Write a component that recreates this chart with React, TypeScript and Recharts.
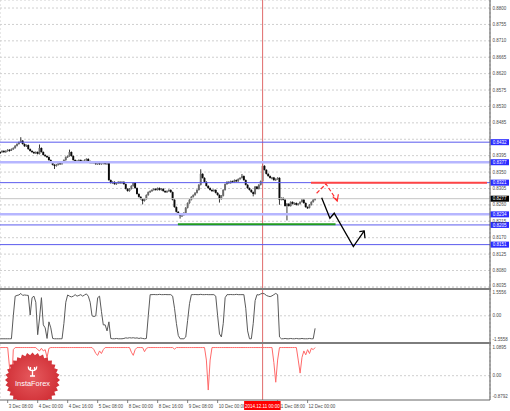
import React from 'react';
import { ComposedChart, Bar, Line, XAxis, YAxis, CartesianGrid, ReferenceLine } from 'recharts';

// H1 closes, index 0 = 3 Dec 04:00
const closes = [
  0.8405, 0.8408, 0.8405, 0.8408, 0.8411, 0.8410, 0.8413, 0.8416, 0.8422, 0.8427,
  0.8432, 0.8436, 0.8427, 0.8421, 0.8424, 0.8413, 0.8408, 0.8405, 0.8402, 0.8405,
  0.8400, 0.8416, 0.8405, 0.8397, 0.8394, 0.8391, 0.8383, 0.8378, 0.8370, 0.8367,
  0.8370, 0.8375, 0.8372, 0.8378, 0.8383, 0.8391, 0.8394, 0.8405, 0.8394, 0.8383,
  0.8380, 0.8381, 0.8383, 0.8380, 0.8378, 0.8383, 0.8386, 0.8380, 0.8375, 0.8378,
  0.8375, 0.8372, 0.8375, 0.8372, 0.8375, 0.8376, 0.8372, 0.8375, 0.8328, 0.8320,
  0.8323, 0.8317, 0.8320, 0.8323, 0.8320, 0.8323, 0.8317, 0.8304, 0.8298, 0.8304,
  0.8312, 0.8320, 0.8306, 0.8290, 0.8282, 0.8276, 0.8271, 0.8276, 0.8287, 0.8295,
  0.8298, 0.8301, 0.8304, 0.8301, 0.8306, 0.8301, 0.8304, 0.8298, 0.8295, 0.8298,
  0.8301, 0.8295, 0.8274, 0.8254, 0.8241, 0.8235, 0.8230, 0.8232, 0.8238, 0.8252,
  0.8265, 0.8274, 0.8282, 0.8287, 0.8293, 0.8301, 0.8315, 0.8345, 0.8334, 0.8323,
  0.8312, 0.8306, 0.8301, 0.8298, 0.8301, 0.8293, 0.8287, 0.8276, 0.8285, 0.8301,
  0.8317, 0.8323, 0.8320, 0.8325, 0.8323, 0.8328, 0.8325, 0.8331, 0.8334, 0.8339,
  0.8328, 0.8315, 0.8306, 0.8301, 0.8295, 0.8290, 0.8310, 0.8304, 0.8315, 0.8325,
  0.8367, 0.8356, 0.8345, 0.8339, 0.8334, 0.8335, 0.8328, 0.8331, 0.8334, 0.8274,
  0.8279, 0.8274, 0.8257, 0.8263, 0.8257, 0.8268, 0.8263, 0.8265, 0.8260, 0.8263,
  0.8268, 0.8274, 0.8265, 0.8254, 0.8252, 0.8260, 0.8268, 0.8274, 0.8277,
];
const spikeHighs: [number, number][] = [[11, 0.8444], [21, 0.8424], [37, 0.8410], [107, 0.8356], [129, 0.8343], [140, 0.8375]];
const spikeLows: [number, number][] = [[29, 0.8360], [76, 0.8263], [96, 0.8224], [117, 0.8268], [135, 0.8285], [149, 0.8262], [153, 0.8219]];

const osc1 = [
  -1.52, -1.52, -1.52, -1.52, -1.52, -1.52, -1.52, 0.0, 1.3, 1.35,
  1.38, 1.48, 1.35, 1.38, 1.36, 1.35, 0.05, 1.2, 1.3, 0.9,
  -1.25, -0.15, 1.2, -0.6, -0.8, -1.5, -0.4, -0.8, -1.5, -1.52,
  -1.52, -1.52, -1.52, -1.52, -0.5, 0.9, 1.38, 1.3, 1.25, 1.3,
  1.4, 1.3, 1.35, 1.4, 1.3, 1.38, 1.45, 1.3, 0.9, 0.0,
  -0.05, 0.0, 1.2, 1.3, 0.3, -0.6, -0.6, -1.0, -0.4, -1.5,
  -1.52, -1.52, -1.5, -1.52, -1.52, -1.52, -1.5, -1.46, -1.48, -1.45,
  -1.47, -1.45, -1.48, -1.46, -1.5, -1.47, -1.5, -1.52, -1.5, 0.0,
  1.4, 1.4, 1.41, 1.4, 1.4, 1.42, 1.4, 1.4, 1.41, 1.4,
  1.4, 1.4, 1.3, 0.5, -0.5, -1.3, -1.52, -1.52, -1.52, -1.4,
  -0.3, 0.8, 1.4, 1.4, 1.41, 1.4, 1.4, 1.42, 1.4, 1.4,
  1.41, 1.4, 1.4, 1.4, 1.4, 1.3, 0.0, -1.2, -1.4, -0.5,
  1.2, 1.4, 1.4, 1.41, 1.4, 1.4, 1.42, 1.4, 1.4, 1.4,
  1.4, 0.5, -1.0, -1.52, -1.52, -0.5, 1.0, 1.4, 1.38, 1.45,
  1.49, 1.45, 1.35, 1.3, 1.27, 1.32, 1.4, 1.48, 1.4, -1.4,
  -1.52, -1.52, -1.5, -1.52, -1.52, -1.5, -1.52, -1.52, -1.5, -1.52,
  -1.52, -1.5, -1.52, -1.52, -1.52, -1.5, -1.52, -1.52, -0.83,
];

const osc2 = [
  1.08, 1.08, 1.08, 1.08, 1.08, 0.3, -0.55, 1.0, 1.08, 1.08,
  1.08, 1.08, 1.08, 1.08, 1.08, 1.08, 1.08, 1.08, 1.08, 1.08,
  1.0, 0.95, 1.05, 0.95, 1.0, 0.7, 1.05, 1.08, 1.08, 1.08,
  1.08, 1.08, 1.08, 1.08, 1.08, 1.08, 1.08, 1.08, 1.08, 1.08,
  1.08, 1.08, 1.08, 1.08, 1.08, 1.08, 1.08, 1.08, 1.08, 1.08,
  1.0, 0.85, 0.78, 0.95, 0.85, 1.0, 1.08, 1.08, 1.08, 1.08,
  1.08, 1.08, 1.08, 1.08, 1.08, 1.08, 1.08, 1.08, 1.08, 1.08,
  0.9, 0.78, 1.0, 1.08, 1.08, 1.08, 1.08, 0.92, 1.05, 1.08,
  1.08, 1.08, 1.08, 1.08, 1.08, 1.08, 1.08, 1.08, 1.08, 1.08,
  1.08, 1.08, 1.08, 1.02, 1.08, 1.08, 1.08, 1.08, 1.08, 1.08,
  1.08, 1.08, 1.08, 1.08, 1.08, 1.08, 1.08, 1.08, 1.08, 1.08,
  0.6, -0.55, 0.6, 1.08, 1.08, 1.08, 1.08, 1.08, 1.08, 1.08,
  1.08, 1.08, 1.08, 1.08, 1.08, 1.08, 1.08, 1.08, 1.08, 1.08,
  1.08, 1.08, 1.08, 1.08, 1.08, 1.08, 1.08, 1.08, 1.08, 1.08,
  1.08, 1.08, 1.08, 1.08, 1.08, 1.08, 0.5, -0.25, 0.6, 1.08,
  1.08, 1.08, 1.08, 1.08, 1.08, 1.08, 1.08, 1.08, 1.08, 0.6,
  0.1, 0.7, 0.95, 0.8, 1.0, 0.85, 1.05, 1.0, 1.08,
];

const priceTicks = [0.88, 0.8755, 0.871, 0.8665, 0.862, 0.8575, 0.853, 0.8485, 0.844, 0.8395, 0.835, 0.8305, 0.826, 0.8215, 0.817, 0.8125, 0.808, 0.8035];
const thinLevels = [0.8432, 0.8321, 0.8205, 0.8151];
const thickLevels = [0.8377, 0.8234];
const lastPrice = 0.8277;
const resistance = { price: 0.8321, from: 165.8, to: 259.7 };
const support = { price: 0.8207, from: 94.8, to: 178.9 };
const redPath = [{ i: 168.8, p: 0.82919 }, { i: 173.8, p: 0.83174 }, { i: 179.8, p: 0.82708 }];
const redHead = [{ i: 177.4, p: 0.82826 }, { i: 179.8, p: 0.82708 }, { i: 180.4, p: 0.82892 }];
const blackPath = [{ i: 171.5, p: 0.82798 }, { i: 175.9, p: 0.82234 }, { i: 178.2, p: 0.82371 }, { i: 188.4, p: 0.81455 }, { i: 194.2, p: 0.81885 }];
const blackHead = [{ i: 191.6, p: 0.81866 }, { i: 194.2, p: 0.81885 }, { i: 194.6, p: 0.81685 }];

const gridIdx = [4, 12, 20, 28, 36, 44, 52, 60, 68, 76, 84, 92, 100, 108, 116, 124, 132, 140, 148, 156, 164, 172, 180, 188, 196, 204, 212, 220, 228, 236, 244, 252, 260];
const timeIdx = [4, 20, 36, 52, 68, 84, 100, 116, 148, 164];
const timeText = ['3 Dec 08:00', '4 Dec 00:00', '4 Dec 16:00', '5 Dec 08:00', '8 Dec 00:00', '8 Dec 16:00', '9 Dec 08:00', '10 Dec 00:00', '11 Dec 08:00', '12 Dec 00:00'];
const cursorIdx = 140;
const cursorText = '2014.12.11 00:00';
const osc1Ticks = [1.5556, 0, -1.5558];
const osc1Text = ['1.5556', '0.00', '-1.5558'];
const osc2Ticks = [1.0895, 0, -0.8792];
const osc2Text = ['1.0895', '0.00', '-0.8792'];

const FONT = 'Liberation Sans, Arial, sans-serif';
const X_DOMAIN: [number, number] = [-0.1, 261.3];
const GRID = '#cfcfcf';
const BLUE_BOX = '#2b2bff';

const candles = closes.map((c, i) => {
  const o = i === 0 ? c : closes[i - 1];
  const sh = spikeHighs.find((s) => s[0] === i);
  const sl = spikeLows.find((s) => s[0] === i);
  const hi = Math.max(o, c, sh ? sh[1] : 0);
  const lo = Math.min(o, c, sl ? sl[1] : 1);
  return { i, open: o, close: c, high: hi, low: lo, range: [lo, hi] };
});
const osc1Rows = osc1.map((v, i) => ({ i, v }));
const osc2Rows = osc2.map((v, i) => ({ i, v }));

function Candle(props: any) {
  const { x, y, width, height, payload } = props;
  if (!payload || x == null || y == null) return null;
  const top = Math.min(y, y + (height || 0));
  const h = Math.abs(height || 0);
  const { open, close, high, low } = payload;
  const k = high - low > 0 ? h / (high - low) : 0;
  const cx = x + width / 2;
  const bTop = top + (high - Math.max(open, close)) * k;
  const bH = Math.max(Math.abs(open - close) * k, 1.2);
  const up = close > open;
  return (
    <g>
      <line x1={cx} x2={cx} y1={top - 0.6} y2={top + Math.max(h, 1.2) + 0.6} stroke="#222" strokeWidth={0.9} />
      <rect x={cx - 0.95} y={bTop} width={1.9} height={bH} fill={up ? '#6a6a6a' : '#0a0a0a'} />
    </g>
  );
}

function PriceTick(props: any) {
  const { y, payload } = props;
  const v = Number(payload.value);
  const hidden = [...thinLevels, ...thickLevels].some((l) => Math.abs(l - v) < 0.0009);
  if (hidden) return null;
  return (
    <text x={492.5} y={Math.min(y + 1.6, 287.3)} fontSize={4.5} fill="#4a4a4a" fontFamily={FONT}>
      {v.toFixed(4)}
    </text>
  );
}

const panelTick = (ticks: number[], texts: string[]) => (props: any) => {
  const { y, payload } = props;
  const k = ticks.indexOf(Number(payload.value));
  return (
    <text x={492.5} y={Math.min(y, 52.8) + 1.6} fontSize={4.5} fill="#4a4a4a" fontFamily={FONT}>
      {k >= 0 ? texts[k] : ''}
    </text>
  );
};

const boxLabel = (text: string, bg: string) => (props: any) => {
  const vb = props.viewBox || {};
  const y = vb.y ?? 0;
  return (
    <g>
      <rect x={490.5} y={y - 3} width={18.5} height={6} fill={bg} />
      <text x={499.7} y={y + 1.6} textAnchor="middle" fontSize={4.5} fill="#fff" fontFamily={FONT}>
        {text}
      </text>
    </g>
  );
};

function TimeTick(props: any) {
  const { x, y, payload } = props;
  const v = Number(payload.value);
  if (v === cursorIdx) {
    return (
      <g>
        <rect x={x - 18.5} y={y + 1} width={36.5} height={9} fill="#ff0000" />
        <text x={x - 0.3} y={y + 7.6} textAnchor="middle" fontSize={4.5} fill="#fff" fontFamily={FONT}>
          {cursorText}
        </text>
      </g>
    );
  }
  const k = timeIdx.indexOf(v);
  return (
    <g>
      <line x1={x} x2={x} y1={y} y2={y + 3} stroke="#666" strokeWidth={0.8} />
      <text x={x + 1} y={y + 7.6} fontSize={4.5} fill="#4a4a4a" fontFamily={FONT}>
        {k >= 0 ? timeText[k] : ''}
      </text>
    </g>
  );
}

const starPoints = Array.from({ length: 64 }, (_, k) => {
  const a = (k * Math.PI) / 32;
  const r = k % 2 ? 24.8 : 27.5;
  return `${(32.5 + r * Math.sin(a)).toFixed(2)},${(36 - r * Math.cos(a)).toFixed(2)}`;
}).join(' ');

function Logo() {
  return (
    <svg width={510} height={56} style={{ position: 'absolute', left: 0, top: 344, pointerEvents: 'none' }}>
      <defs>
        <radialGradient id="lg" cx="50%" cy="45%" r="55%">
          <stop offset="0%" stopColor="#e65a5e" />
          <stop offset="100%" stopColor="#cf2c33" />
        </radialGradient>
      </defs>
      <polygon points={starPoints} fill="url(#lg)" />
      <path d="M28.3 22.5 C28.3 28, 36.7 28, 36.7 22.5 M32.5 25.5 L32.5 32 M30 32 L35 32 M30.5 23 L30.5 26 M34.5 23 L34.5 26" stroke="#fff" strokeWidth={1.3} fill="none" />
      <text x={32.5} y={42} textAnchor="middle" fontSize={7.4} fill="#fff" fontFamily={FONT}>
        InstaForex
      </text>
    </svg>
  );
}

export default function App() {
  return (
    <div style={{ position: 'fixed', left: 0, top: 0, width: 510, height: 411, background: '#fff', overflow: 'hidden' }}>
      <div style={{ position: 'absolute', left: 0, top: 0 }}>
        <ComposedChart width={510} height={288} data={candles} margin={{ top: 0, right: 0, bottom: 0, left: 0 }}>
          <CartesianGrid stroke={GRID} strokeDasharray="2 2" />
          <XAxis type="number" dataKey="i" domain={X_DOMAIN} ticks={gridIdx} interval={0} allowDataOverflow tick={false} tickLine={false} axisLine={false} height={0} />
          <YAxis orientation="right" width={20} domain={[0.8032, 0.8822]} ticks={priceTicks} interval={0} allowDataOverflow tick={<PriceTick />} tickLine={false} axisLine={{ stroke: '#555' }} />
          <ReferenceLine x={cursorIdx} stroke="#e06a6a" strokeWidth={1} />
          <ReferenceLine y={lastPrice} stroke="#c4c4c4" strokeWidth={1} label={boxLabel('0.8277', '#000')} />
          {thickLevels.map((p) => (
            <ReferenceLine key={'k' + p} y={p} stroke="#b6b6ff" strokeWidth={2.5} label={boxLabel(p.toFixed(4), BLUE_BOX)} />
          ))}
          {thinLevels.map((p) => (
            <ReferenceLine key={'t' + p} y={p} stroke="#5a5aee" strokeWidth={1} label={boxLabel(p.toFixed(4), BLUE_BOX)} />
          ))}
          <ReferenceLine segment={[{ x: resistance.from, y: resistance.price }, { x: resistance.to, y: resistance.price }]} stroke="#ff4444" strokeWidth={2} />
          <ReferenceLine segment={[{ x: support.from, y: support.price }, { x: support.to, y: support.price }]} stroke="#1f9a1f" strokeWidth={2} />
          <Bar dataKey="range" barSize={2} shape={<Candle />} isAnimationActive={false} />
          <Line data={redPath} dataKey="p" stroke="#ff3030" strokeWidth={1.2} strokeDasharray="4 2" dot={false} activeDot={false} isAnimationActive={false} />
          <Line data={redHead} dataKey="p" stroke="#ff3030" strokeWidth={1.2} dot={false} activeDot={false} isAnimationActive={false} />
          <Line data={blackPath} dataKey="p" stroke="#000" strokeWidth={1.3} dot={false} activeDot={false} isAnimationActive={false} />
          <Line data={blackHead} dataKey="p" stroke="#000" strokeWidth={1.3} dot={false} activeDot={false} isAnimationActive={false} />
        </ComposedChart>
      </div>
      <div style={{ position: 'absolute', left: 0, top: 288, width: 491, height: 2, background: '#7d7d7d' }} />
      <div style={{ position: 'absolute', left: 0, top: 290 }}>
        <ComposedChart width={510} height={52} data={osc1Rows} margin={{ top: 0, right: 0, bottom: 0, left: 0 }}>
          <CartesianGrid stroke={GRID} strokeDasharray="2 2" horizontal={false} />
          <XAxis type="number" dataKey="i" domain={X_DOMAIN} ticks={gridIdx} interval={0} allowDataOverflow tick={false} tickLine={false} axisLine={false} height={0} />
          <YAxis orientation="right" width={20} domain={[-1.734, 1.708]} ticks={osc1Ticks} interval={0} allowDataOverflow tick={panelTick(osc1Ticks, osc1Text)} tickLine={false} axisLine={{ stroke: '#555' }} />
          <ReferenceLine y={0} stroke={GRID} strokeDasharray="2 2" />
          <ReferenceLine x={cursorIdx} stroke="#e06a6a" strokeWidth={1} />
          <Line dataKey="v" stroke="#5a5a5a" strokeWidth={1} dot={false} activeDot={false} isAnimationActive={false} />
        </ComposedChart>
      </div>
      <div style={{ position: 'absolute', left: 0, top: 342, width: 491, height: 2, background: '#7d7d7d' }} />
      <div style={{ position: 'absolute', left: 0, top: 344 }}>
        <ComposedChart width={510} height={67} data={osc2Rows} margin={{ top: 0, right: 0, bottom: 0, left: 0 }}>
          <CartesianGrid stroke={GRID} strokeDasharray="2 2" horizontal={false} />
          <XAxis type="number" dataKey="i" domain={X_DOMAIN} ticks={gridIdx} interval={0} allowDataOverflow tick={false} tickLine={false} axisLine={false} height={0} />
          <XAxis xAxisId="t" type="number" dataKey="i" domain={X_DOMAIN} ticks={[...timeIdx, cursorIdx]} allowDataOverflow interval={0} tick={<TimeTick />} tickLine={false} tickSize={0} tickMargin={0} axisLine={{ stroke: '#666' }} height={11} />
          <YAxis orientation="right" width={20} domain={[-0.932, 1.216]} ticks={osc2Ticks} interval={0} allowDataOverflow tick={panelTick(osc2Ticks, osc2Text)} tickLine={false} axisLine={{ stroke: '#555' }} />
          <ReferenceLine y={0} stroke={GRID} strokeDasharray="2 2" />
          <ReferenceLine x={cursorIdx} stroke="#e06a6a" strokeWidth={1} />
          <Line dataKey="v" stroke="#ff6a6a" strokeWidth={1} dot={false} activeDot={false} isAnimationActive={false} />
        </ComposedChart>
      </div>
      <Logo />
    </div>
  );
}
